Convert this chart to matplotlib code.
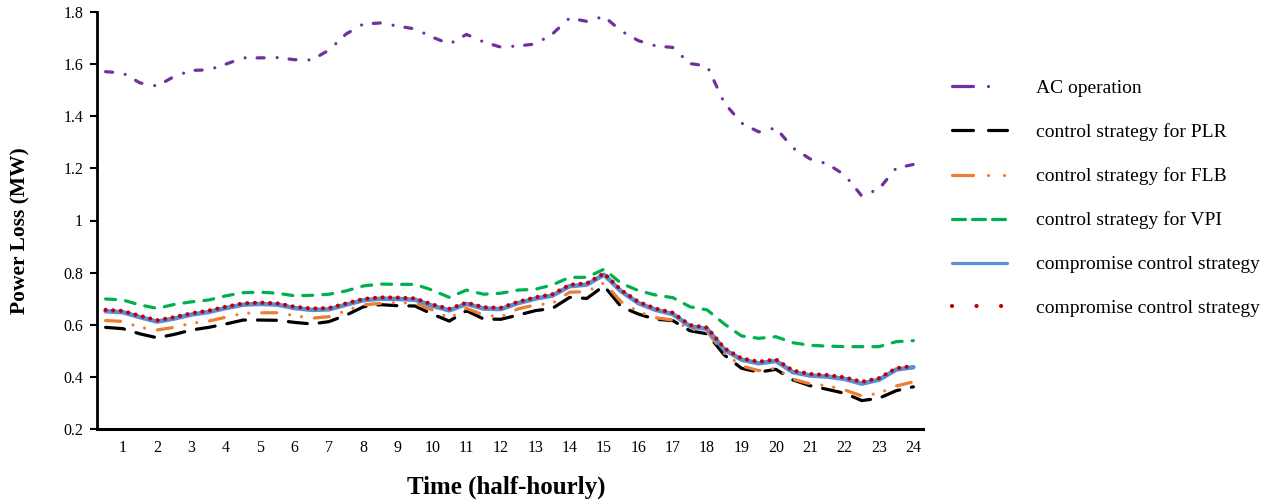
import matplotlib
matplotlib.use('Agg')
import matplotlib.pyplot as plt
from matplotlib.lines import Line2D
import numpy as np

plt.rcParams['font.family'] = ['Liberation Serif', 'DejaVu Serif']
plt.rcParams['lines.scale_dashes'] = False

# x positions: 48 half-hourly points, labelled 1..24
time_points = np.arange(1, 49) / 2.0
tick_labels = [str(i) for i in range(1, 25)]

ac_operation = [1.571, 1.566, 1.528, 1.516, 1.553, 1.576, 1.578, 1.600, 1.624, 1.624,
                1.625, 1.617, 1.616, 1.654, 1.716, 1.754, 1.758, 1.746, 1.735, 1.704,
                1.677, 1.714, 1.685, 1.665, 1.670, 1.677, 1.716, 1.777, 1.764, 1.783,
                1.727, 1.690, 1.670, 1.664, 1.602, 1.593, 1.451, 1.374, 1.340, 1.355,
                1.278, 1.236, 1.217, 1.175, 1.094, 1.121, 1.201, 1.215]

plr = [0.590, 0.585, 0.565, 0.550, 0.563, 0.580, 0.590, 0.603, 0.618, 0.618,
       0.617, 0.609, 0.603, 0.612, 0.637, 0.669, 0.677, 0.673, 0.672, 0.641,
       0.614, 0.654, 0.622, 0.621, 0.637, 0.654, 0.663, 0.705, 0.701, 0.749,
       0.669, 0.641, 0.621, 0.616, 0.577, 0.565, 0.484, 0.433, 0.418, 0.429,
       0.388, 0.366, 0.352, 0.337, 0.309, 0.318, 0.347, 0.362]

flb = [0.616, 0.613, 0.590, 0.580, 0.590, 0.606, 0.614, 0.629, 0.644, 0.646,
       0.646, 0.635, 0.625, 0.631, 0.654, 0.676, 0.682, 0.685, 0.682, 0.657,
       0.625, 0.663, 0.637, 0.631, 0.661, 0.676, 0.682, 0.725, 0.727, 0.761,
       0.688, 0.650, 0.627, 0.618, 0.584, 0.573, 0.490, 0.442, 0.424, 0.433,
       0.391, 0.373, 0.366, 0.350, 0.327, 0.337, 0.365, 0.381]

vpi = [0.699, 0.695, 0.676, 0.663, 0.678, 0.688, 0.695, 0.711, 0.723, 0.725,
       0.721, 0.711, 0.713, 0.717, 0.730, 0.749, 0.756, 0.755, 0.755, 0.733,
       0.705, 0.733, 0.717, 0.721, 0.733, 0.736, 0.753, 0.782, 0.782, 0.813,
       0.759, 0.731, 0.714, 0.704, 0.669, 0.657, 0.603, 0.557, 0.548, 0.554,
       0.531, 0.521, 0.518, 0.516, 0.516, 0.516, 0.535, 0.539]

compromise_1 = [0.652, 0.648, 0.629, 0.612, 0.624, 0.639, 0.649, 0.664, 0.677, 0.680,
                0.677, 0.664, 0.657, 0.659, 0.677, 0.694, 0.700, 0.699, 0.696, 0.673,
                0.655, 0.680, 0.662, 0.660, 0.683, 0.700, 0.712, 0.748, 0.754, 0.792,
                0.728, 0.683, 0.657, 0.641, 0.594, 0.584, 0.505, 0.466, 0.452, 0.461,
                0.418, 0.405, 0.401, 0.392, 0.374, 0.389, 0.428, 0.437]

compromise_2 = [0.657, 0.653, 0.634, 0.617, 0.629, 0.644, 0.654, 0.669, 0.682, 0.685,
                0.682, 0.669, 0.662, 0.664, 0.682, 0.699, 0.705, 0.704, 0.701, 0.678,
                0.661, 0.685, 0.667, 0.665, 0.688, 0.705, 0.717, 0.753, 0.759, 0.797,
                0.733, 0.688, 0.662, 0.646, 0.599, 0.589, 0.510, 0.471, 0.458, 0.467,
                0.424, 0.411, 0.407, 0.398, 0.381, 0.395, 0.433, 0.442]

labels = ['AC operation', 'control strategy for PLR', 'control strategy for FLB',
          'control strategy for VPI', 'compromise control strategy',
          'compromise control strategy']

W, H = 1263, 501
fig = plt.figure(figsize=(W / 100, H / 100), dpi=100)
ax = fig.add_axes([97 / W, 1 - 429 / H, (923 - 97) / W, (429 - 12) / H])

px = 0.72  # points per pixel at 100 dpi
c_ac, c_plr, c_flb, c_vpi, c_c1, c_c2 = '#7030A0', 'black', '#ED7D31', '#00B050', '#5B8ED6', '#C00000'

ax.plot(time_points, ac_operation, color=c_ac, lw=3.2 * px,
        dashes=(7 * px, 13 * px, 0.01, 12 * px), dash_capstyle='round')
ax.plot(time_points, plr, color=c_plr, lw=3.2 * px,
        dashes=(19 * px, 12 * px), dash_capstyle='round')
ax.plot(time_points, flb, color=c_flb, lw=3.2 * px,
        dashes=(15 * px, 13 * px, 0.01, 12 * px, 0.01, 13 * px), dash_capstyle='round')
ax.plot(time_points, vpi, color=c_vpi, lw=3.2 * px,
        dashes=(10 * px, 10 * px), dash_capstyle='round')
ax.plot(time_points, compromise_1, color=c_c1, lw=4.5 * px, solid_capstyle='round')
ax.plot(time_points, compromise_2, color=c_c2, lw=4.2 * px,
        dashes=(0.01, 7.6 * px), dash_capstyle='round')

ax.set_xlim(0.25, 24.28)
ax.set_ylim(0.2, 1.8)
ax.set_xticks(np.arange(1, 25))
ax.set_xticklabels(tick_labels)
ax.set_yticks([0.2, 0.4, 0.6, 0.8, 1.0, 1.2, 1.4, 1.6, 1.8])
ax.set_yticklabels(['0.2', '0.4', '0.6', '0.8', '1', '1.2', '1.4', '1.6', '1.8'])
ax.tick_params(axis='x', length=0, pad=8, labelsize=11.5)
ax.tick_params(axis='y', length=5, width=1.5, direction='out', pad=5, labelsize=11.5)
for s in ['top', 'right']:
    ax.spines[s].set_visible(False)
ax.spines['left'].set_linewidth(2.0)
ax.spines['bottom'].set_linewidth(2.2)

fig.text(20 / W, 1 - 231 / H, 'Power Loss (MW)', rotation=90, ha='center', va='center',
         fontsize=15.5, fontweight='bold')
fig.text(506 / W, 1 - 487 / H, 'Time (half-hourly)', ha='center', va='center',
         fontsize=18, fontweight='bold')

# legend proxy handles (legend samples use their own dash spacing)
lw_leg = 3.2 * px
handles = [
    Line2D([], [], color=c_ac, lw=lw_leg, dashes=(21 * px, 15 * px, 0.01, 40 * px), dash_capstyle='round'),
    Line2D([], [], color=c_plr, lw=lw_leg, dashes=(21 * px, 15 * px), dash_capstyle='round'),
    Line2D([], [], color=c_flb, lw=lw_leg, dashes=(21 * px, 15 * px, 0.01, 16 * px, 0.01, 20 * px), dash_capstyle='round'),
    Line2D([], [], color=c_vpi, lw=lw_leg, dashes=(13 * px, 7 * px), dash_capstyle='round'),
    Line2D([], [], color=c_c1, lw=3.2 * px, solid_capstyle='round'),
    Line2D([], [], color=c_c2, lw=4.2 * px, dashes=(0.01, 24.5 * px), dash_capstyle='round'),
]
leg = fig.legend(handles=handles, labels=labels,
                 loc='upper left', bbox_to_anchor=(952 / W, 1 - 79.5 / H),
                 frameon=False, fontsize=14, handlelength=2.85, handletextpad=1.45,
                 labelspacing=1.35, borderpad=0, borderaxespad=0)

fig.savefig('out.png', dpi=100)
